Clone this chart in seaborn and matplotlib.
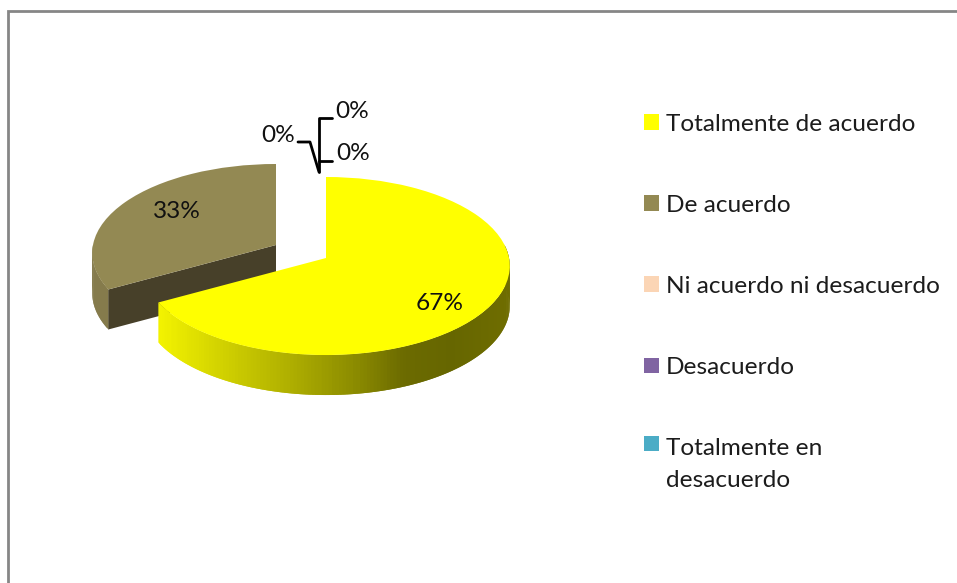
import numpy as np
import matplotlib
matplotlib.use("Agg")
import matplotlib.pyplot as plt
from matplotlib.colors import LinearSegmentedColormap
import seaborn as sns

categories = ["Totalmente de acuerdo", "De acuerdo", "Ni acuerdo ni desacuerdo",
              "Desacuerdo", "Totalmente en\ndesacuerdo"]
percent = [67, 33, 0, 0, 0]
colors = ["#FFFF00", "#938953", "#FBD5B5", "#8064A2", "#4BACC6"]

sns.set_theme(style="white")
plt.rcParams["font.family"] = ["Lato", "DejaVu Sans"]

FONT = 17.6
DEPTH = 40
rim = LinearSegmentedColormap.from_list(
    "rim", [(0, "#f2f200"), (0.17, "#d2d200"), (0.37, "#aeae00"), (0.56, "#8a8a00"),
            (0.69, "#6c6b00"), (0.83, "#666600"), (1, "#6f6d00")])


# the chart is a tilted pie, so push the unit circle through a small perspective
def project(x, y, cx, cy):
    s = 1 + 0.09 * y
    return cx + 183 * x / s, cy - 88.3 * y / s


def side(ax, t0, t1, cx, cy, color, z):
    # outer rim, thin overlapping strips so no seams show
    ts = np.radians(np.arange(t0, t1 + 1.0, 1.0))
    for a, b in zip(ts[:-2], ts[2:]):
        xa, ya = project(np.cos(a), np.sin(a), cx, cy)
        xb, yb = project(np.cos(b), np.sin(b), cx, cy)
        c = color(xa) if callable(color) else color
        ax.fill([xa, xb, xb, xa], [ya, yb, yb + DEPTH, ya + DEPTH],
                color=c, lw=0, zorder=z)


fig = plt.figure(figsize=(9.57, 5.83), dpi=100)
ax = fig.add_axes([0, 0, 1, 1])
wedges, _ = ax.pie(percent, colors=colors, startangle=90, counterclock=False,
                   wedgeprops={"linewidth": 0})
ax.set_aspect("auto")
ax.set_xlim(0, 957)
ax.set_ylim(583, 0)
ax.axis("off")

# slice centres, 33% is pulled out up and to the left
centers = [(326, 258), (276, 245), (326, 258), (326, 258), (326, 258)]
for w, (cx, cy) in zip(wedges, centers):
    v = w.get_path().vertices
    px, py = project(v[:, 0], v[:, 1], cx, cy)
    v[:, 0], v[:, 1] = px, py

wedges[0].set_zorder(6)
wedges[1].set_zorder(4)

# side of the yellow slice
y_cx, y_cy = centers[0]
side(ax, wedges[0].theta1, 8, y_cx, y_cy, lambda x: rim((x - 160) / 350), 5)

# side and cut face of the olive slice
o_cx, o_cy = centers[1]
side(ax, -180, wedges[1].theta2, o_cx, o_cy, "#857B4C", 2)
a = np.radians(wedges[1].theta2)
ex, ey = project(np.cos(a), np.sin(a), o_cx, o_cy)
ax.fill([o_cx, ex, ex, o_cx], [o_cy, ey, ey + DEPTH, o_cy + DEPTH],
        color="#474029", lw=0, zorder=3)

# outer frame of the chart area
ax.plot([8, 8, 957], [583, 11, 11], color="#868686", lw=2, zorder=1, solid_joinstyle="miter")

# data labels
ax.text(440, 303, f"{percent[0]}%", fontsize=FONT, color="#111111", ha="center", va="center", zorder=8)
ax.text(177, 211, f"{percent[1]}%", fontsize=FONT, color="#111111", ha="center", va="center", zorder=8)
ax.text(278, 136, f"{percent[2]}%", fontsize=FONT, color="#111111", ha="center", va="center", zorder=8)
ax.text(352, 112, f"{percent[3]}%", fontsize=FONT, color="#111111", ha="center", va="center", zorder=8)
ax.text(353, 154, f"{percent[4]}%", fontsize=FONT, color="#111111", ha="center", va="center", zorder=8)

# leader lines
ax.plot([298, 310, 319], [142, 142, 172], color="black", lw=2, zorder=7)
ax.plot([332, 319, 319], [118, 118, 172], color="black", lw=2, zorder=7)
ax.plot([319, 332], [161, 161], color="black", lw=2, zorder=7)

leg = ax.legend(wedges, categories, loc="upper left",
                bbox_to_anchor=(635.5, 105), bbox_transform=ax.transData,
                frameon=False, fontsize=FONT, labelspacing=2.46, handlelength=0.61,
                handleheight=0.61, handletextpad=0.27, borderaxespad=0, borderpad=0.35,
                labelcolor="#1c1c1c")
leg.set_zorder(9)
leg.get_texts()[-1].set_linespacing(1.63)
# the marker of the two line entry sits on its first line
last = leg.legend_handles[-1]
last.set_y(last.get_y() + 15)

fig.savefig("out.png", dpi=100)
